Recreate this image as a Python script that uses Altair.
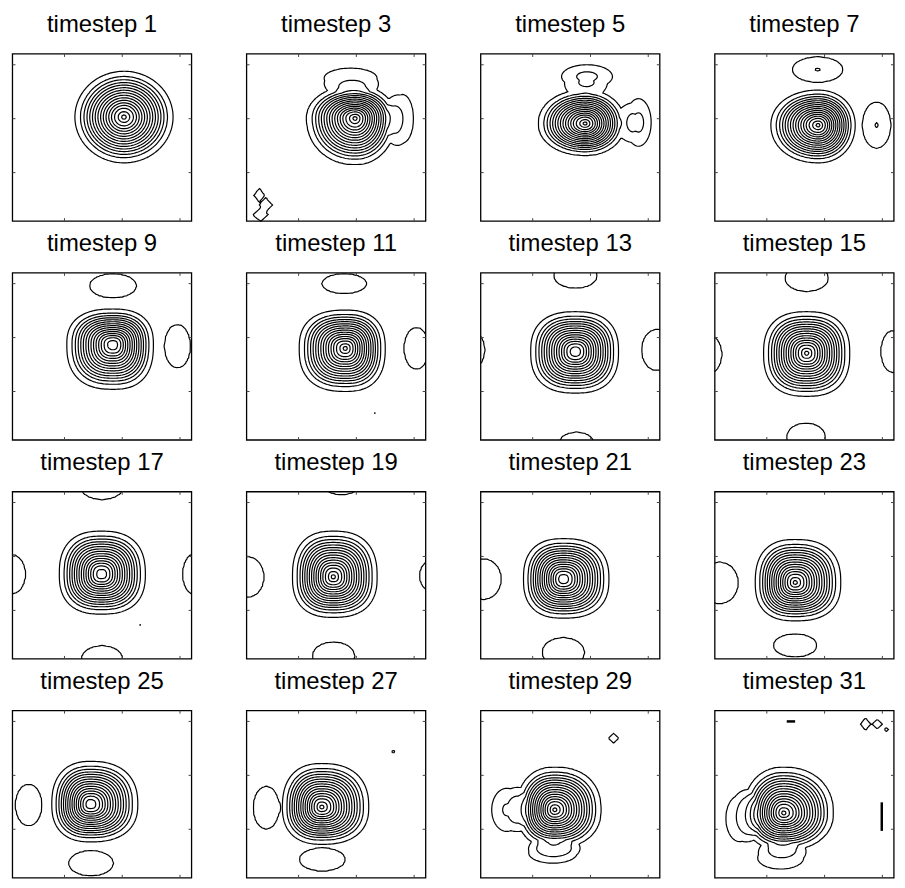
import numpy as np
import pandas as pd
import altair as alt

# ---------------- data ----------------
TIMESTEPS = [1, 3, 5, 7, 9, 11, 13, 15, 17, 19, 21, 23, 25, 27, 29, 31]

# main vortex: centre, half-sizes (left/right/bottom/top, grid units), squareness, ring count
MAIN_X   = [20.3, 19.8, 19.1, 18.9, 18.4, 18.1, 17.4, 16.9, 16.4, 16.0, 15.3, 14.9, 14.5, 14.0, 13.8, 12.9]
MAIN_Y   = [20.3, 20.1, 19.1, 18.8, 18.7, 18.0, 17.4, 17.1, 16.7, 16.2, 15.8, 15.15, 14.6, 14.1, 13.6, 13.0]
A_LEFT   = [8.5, 8.4, 8.1, 8.2, 8.0, 8.0, 7.75, 7.46, 7.3, 7.06, 6.9, 6.9, 6.7, 6.8, 6.5, 6.9]
A_RIGHT  = [8.5, 7.0, 6.8, 6.4, 7.0, 6.9, 7.46, 7.46, 7.6, 7.6, 7.9, 7.9, 8.2, 8.15, 8.0, 8.6]
B_BOTTOM = [8.5, 8.6, 5.9, 7.0, 8.3, 8.0, 7.7, 8.0, 7.4, 7.5, 7.25, 7.1, 6.95, 6.9, 7.0, 6.9]
B_TOP    = [8.5, 6.0, 6.2, 6.5, 6.6, 7.1, 7.4, 7.7, 8.0, 8.5, 7.5, 8.0, 8.0, 8.1, 7.9, 8.5]
SHAPE_P  = [2.0, 2.1, 2.1, 2.1, 2.5, 2.5, 2.5, 2.5, 2.5, 2.5, 2.5, 2.5, 2.4, 2.4, 2.3, 2.2]
N_RINGS  = [16, 16, 16, 16, 15, 16, 15, 16, 15, 16, 15, 16, 15, 16, 16, 16]
MAIN_TAILS = [0.1, 0.3, 0.3, 0.1, 0.1, 0.1, 0.1, 0.1, 0.1, 0.1, 0.1, 0.1, 0.1, 0.1, 0.25, 0.25]

# relative radii of the contour rings (outer -> inner), read from timestep 1
RING_FRACS = [1.0, 0.883, 0.814, 0.752, 0.697, 0.641, 0.586, 0.531, 0.476,
              0.421, 0.366, 0.310, 0.255, 0.193, 0.117, 0.048]

# side lobes / small features: timestep, cx, cy, rx, ry, relative peak, falloff, norm (2 ellipse, 1 diamond)
LOBE_TS = [3, 3, 3, 3, 3,
           5, 5, 7, 7, 9, 9, 11, 11,
           13, 13, 13, 13, 15, 15, 15, 15, 17, 17, 17, 17, 19, 19, 19, 19,
           21, 21, 23, 23, 25, 25, 27, 27, 27,
           29, 29, 29, 31, 31, 31, 31, 31]
LOBE_X = [19.0, 28.0, 3.2, 4.3, 3.4,
          19.4, 28.3, 18.8, 29.0, 18.4, 29.55, 17.9, 30.4,
          17.4, 17.6, 31.5, -1.0, 16.9, 16.8, 31.8, -0.5, 16.5, 16.5, 0.8, 32.5, 17.4, 16.05, 1.2, 33.2,
          1.5, 15.3, 1.8, 14.9, 3.8, 14.6, 4.4, 14.1, 26.4,
          5.5, 13.5, 24.0, 5.3, 12.4, 27.1, 29.1, 30.7]
LOBE_Y = [27.5, 20.0, 5.8, 4.0, 2.2,
          27.8, 19.3, 29.1, 18.8, 29.6, 18.4, 30.0, 18.0,
          31.5, 0.6, 17.7, 17.7, 31.0, 1.5, 17.4, 16.9, 33.0, 1.0, 16.7, 16.7, 33.9, 1.5, 16.2, 16.4,
          15.8, 2.2, 15.1, 3.5, 14.5, 3.7, 14.0, 4.4, 24.4,
          13.6, 5.6, 26.9, 12.0, 4.7, 29.5, 29.5, 28.5]
LOBE_RX = [4.6, 1.9, 1.0, 1.2, 1.4,
           4.4, 2.2, 4.4, 2.5, 4.1, 2.3, 3.9, 2.2,
           3.8, 2.95, 2.7, 2.75, 3.8, 3.4, 2.1, 2.76, 3.75, 3.6, 2.5, 2.1, 3.6, 3.7, 2.85, 2.3,
           3.1, 3.7, 3.3, 3.8, 2.35, 3.9, 2.3, 4.0, 0.45,
           2.6, 4.2, 1.0, 2.4, 4.0, 1.0, 0.9, 0.4]
LOBE_RY = [1.9, 4.5, 1.4, 1.5, 1.3,
           2.2, 4.4, 2.4, 4.3, 2.3, 4.06, 1.9, 3.9,
           2.4, 1.9, 3.85, 3.8, 2.5, 2.7, 3.9, 3.9, 2.5, 2.5, 3.7, 3.8, 2.5, 2.7, 3.8, 3.0,
           3.8, 2.8, 3.9, 2.2, 3.9, 2.4, 4.0, 2.2, 0.35,
           4.0, 1.9, 1.0, 4.3, 2.1, 1.2, 1.0, 0.5]
LOBE_H = [1.6, 1.6, 1.5, 1.5, 1.5,
          2.2, 2.2, 2.01, 2.01, 1.6, 1.6, 1.6, 1.6,
          1.6, 1.6, 1.6, 1.6, 1.6, 1.6, 1.6, 1.6, 1.6, 1.6, 1.6, 1.6, 1.6, 1.6, 1.6, 1.6,
          1.6, 1.6, 1.6, 1.6, 1.6, 1.6, 1.6, 1.6, 1.5,
          2.08, 2.08, 1.5, 1.8, 1.8, 1.5, 1.5, 1.5]
LOBE_TAILS = [0.5, 0.5, 0.15, 0.15, 0.15,
              0.5, 0.5, 0.15, 0.15, 0.15, 0.15, 0.15, 0.15,
              0.15, 0.15, 0.15, 0.15, 0.15, 0.15, 0.15, 0.15, 0.15, 0.15, 0.15, 0.15, 0.15, 0.15, 0.15, 0.15,
              0.15, 0.15, 0.15, 0.15, 0.15, 0.15, 0.15, 0.15, 0.15,
              0.4, 0.4, 0.15, 0.4, 0.4, 0.15, 0.15, 0.15]
LOBE_P = [2, 2, 1, 1, 1,
          2, 2, 2, 2, 2, 2, 2, 2,
          2, 2, 2, 2, 2, 2, 2, 2, 2, 2, 2, 2, 2, 2, 2, 2,
          2, 2, 2, 2, 2, 2, 2, 2, 1,
          2, 2, 1, 2, 2, 1, 1, 1]

# tiny specks and degenerate contour strokes
SPECK_TS = [11, 17]
SPECK_X = [23.2, 23.1]
SPECK_Y = [6.0, 7.3]
SEG_TS = [31, 31]
SEG_X1 = [13.45, 29.9]
SEG_X2 = [14.9, 29.9]
SEG_Y1 = [30.0, 9.7]
SEG_Y2 = [30.0, 15.0]

TICKS = [10, 20, 30]
DOMAIN = [1, 32]

# ---------------- field + contour tracing ----------------
LEVEL_STEP = 1.0 / 17.0
XS = np.linspace(1, 32, 125)
YS = np.linspace(1, 32, 125)
GX, GY = np.meshgrid(XS, YS)


def main_field(i):
    dx = GX - MAIN_X[i]
    dy = GY - MAIN_Y[i]
    ax = np.where(dx < 0, A_LEFT[i], A_RIGHT[i])
    ay = np.where(dy < 0, B_BOTTOM[i], B_TOP[i])
    p = SHAPE_P[i]
    d = ((np.abs(dx) / ax) ** p + (np.abs(dy) / ay) ** p) ** (1.0 / p)
    n = N_RINGS[i]
    fr = RING_FRACS[:n][::-1]
    lv = [LEVEL_STEP * k for k in range(n, 0, -1)]
    xp = [0.0] + fr + [1.0 + MAIN_TAILS[i]]
    fp = [LEVEL_STEP * (n + 0.6)] + lv + [0.0]
    return np.interp(d, xp, fp)


def lobe_field(k):
    p = LOBE_P[k]
    d = ((np.abs(GX - LOBE_X[k]) / LOBE_RX[k]) ** p + (np.abs(GY - LOBE_Y[k]) / LOBE_RY[k]) ** p) ** (1.0 / p)
    h = LOBE_H[k]
    inner = h - (h - 1) * d ** 2
    outer = np.maximum(0.0, 1 - (d - 1) / LOBE_TAILS[k])
    return LEVEL_STEP * np.where(d < 1, inner, outer)


TABLE = {1: ('l', 'b'), 2: ('b', 'r'), 3: ('l', 'r'), 4: ('r', 't'), 6: ('b', 't'),
         7: ('l', 't'), 8: ('l', 't'), 9: ('b', 't'), 11: ('r', 't'), 12: ('l', 'r'),
         13: ('b', 'r'), 14: ('l', 'b')}


def contour_lines(F, lev):
    A = F >= lev
    c = A[:-1, :-1] * 1 + A[:-1, 1:] * 2 + A[1:, 1:] * 4 + A[1:, :-1] * 8
    js, iis = np.nonzero((c > 0) & (c < 15))
    adj = {}

    def link(a, b):
        adj.setdefault(a, []).append(b)
        adj.setdefault(b, []).append(a)

    for j, i in zip(js, iis):
        cc = int(c[j, i])
        E = {'b': (0, j, i), 't': (0, j + 1, i), 'l': (1, j, i), 'r': (1, j, i + 1)}
        if cc in (5, 10):
            center = (F[j, i] + F[j, i + 1] + F[j + 1, i] + F[j + 1, i + 1]) / 4 >= lev
            if cc == 5:
                pairs = [('l', 't'), ('b', 'r')] if center else [('l', 'b'), ('r', 't')]
            else:
                pairs = [('l', 'b'), ('r', 't')] if center else [('b', 'r'), ('l', 't')]
        else:
            pairs = [TABLE[cc]]
        for a, b in pairs:
            link(E[a], E[b])

    def pt(k):
        o, j, i = k
        if o == 0:
            f0, f1 = F[j, i], F[j, i + 1]
            t = (lev - f0) / (f1 - f0)
            return XS[i] + t * (XS[i + 1] - XS[i]), YS[j]
        f0, f1 = F[j, i], F[j + 1, i]
        t = (lev - f0) / (f1 - f0)
        return XS[i], YS[j] + t * (YS[j + 1] - YS[j])

    seen = set()
    paths = []
    starts = [k for k, v in adj.items() if len(v) == 1] + [k for k, v in adj.items() if len(v) != 1]
    for s in starts:
        if s in seen:
            continue
        path = [s]
        seen.add(s)
        prev, cur = None, s
        while True:
            nxt = None
            for nb in adj[cur]:
                if nb != prev and nb not in seen:
                    nxt = nb
                    break
            if nxt is None:
                if len(adj[cur]) == 2 and s in adj[cur] and len(path) > 2:
                    path.append(s)
                break
            path.append(nxt)
            seen.add(nxt)
            prev, cur = cur, nxt
        paths.append([pt(k) for k in path])
    return paths


# panel geometry: title band on top of a 180 x 168 plot box
W, BOX_H, TOP = 180, 168, 45
PH = TOP + BOX_H
xs = alt.Scale(domain=DOMAIN, nice=False, zero=False, range=[0, W])
ys = alt.Scale(domain=DOMAIN, nice=False, zero=False, range=[PH, TOP])


def panel(i, ts):
    F = main_field(i)
    for k in range(len(LOBE_TS)):
        if LOBE_TS[k] == ts:
            F = F + lobe_field(k)
    rows = []
    for lev_k in range(1, 17):
        lev = (lev_k - 0.001) * LEVEL_STEP
        for n, path in enumerate(contour_lines(F, lev)):
            pid = f"{lev_k}_{n}"
            for o, (x, y) in enumerate(path):
                rows.append(('line', pid, o, round(float(x), 3), round(float(y), 3), ''))
    for t in TICKS:
        rows.append(('tick', '', 0, t, t, ''))
    rows.append(('title', '', 0, np.nan, np.nan, f"timestep {ts}"))
    for sts, x, y in zip(SPECK_TS, SPECK_X, SPECK_Y):
        if sts == ts:
            rows.append(('speck', '', 0, x, y, ''))
    df = pd.DataFrame(rows, columns=['kind', 'pid', 'o', 'x', 'y', 'label'])
    df['x2'] = np.nan
    df['y2'] = np.nan
    extra = [{'kind': 'box', 'pid': '', 'o': 0, 'label': '',
              'x': DOMAIN[0], 'y': DOMAIN[0], 'x2': DOMAIN[1], 'y2': DOMAIN[1]}]
    for j, s in enumerate(SEG_TS):
        if s == ts:
            extra.append({'kind': 'seg', 'pid': '', 'o': 0, 'label': '',
                          'x': SEG_X1[j], 'y': SEG_Y1[j], 'x2': SEG_X2[j], 'y2': SEG_Y2[j]})
    df = pd.concat([df, pd.DataFrame(extra)], ignore_index=True)

    base = alt.Chart(df)
    X = alt.X('x:Q', scale=xs, axis=None)
    Y = alt.Y('y:Q', scale=ys, axis=None)
    layers = [
        base.mark_rect(fill=None, stroke='black', strokeWidth=1.3).encode(
            x=X, y=Y, x2='x2:Q', y2='y2:Q').transform_filter(alt.datum.kind == 'box'),
        base.mark_line(color='black', strokeWidth=1.2).encode(
            x=X, y=Y, detail='pid:N', order='o:Q').transform_filter(alt.datum.kind == 'line'),
    ]
    tick_style = dict(color='#444444', strokeWidth=1)
    tf = base.transform_filter(alt.datum.kind == 'tick')
    layers += [
        tf.mark_rule(**tick_style).encode(x=X, y=alt.value(TOP), y2=alt.value(TOP + 3)),
        tf.mark_rule(**tick_style).encode(x=X, y=alt.value(PH), y2=alt.value(PH - 3)),
        tf.mark_rule(**tick_style).encode(y=Y, x=alt.value(0), x2=alt.value(3)),
        tf.mark_rule(**tick_style).encode(y=Y, x=alt.value(W), x2=alt.value(W - 3)),
        base.mark_text(fontSize=24, font='Liberation Sans', color='black',
                       align='center', baseline='alphabetic').encode(
            x=alt.value(W / 2), y=alt.value(TOP - 22), text='label:N'
        ).transform_filter(alt.datum.kind == 'title'),
    ]
    if ts in SPECK_TS:
        layers.append(base.mark_circle(color='black', size=3, opacity=1).encode(
            x=X, y=Y).transform_filter(alt.datum.kind == 'speck'))
    if ts in SEG_TS:
        layers.append(base.mark_rule(color='black', strokeWidth=2.5).encode(
            x=X, y=Y, x2='x2:Q', y2='y2:Q').transform_filter(alt.datum.kind == 'seg'))
    return alt.layer(*layers).properties(width=W, height=PH)


panels = [panel(i, ts) for i, ts in enumerate(TIMESTEPS)]
chart = alt.concat(*panels, columns=4, bounds='flush',
                   spacing={'row': 7, 'column': 55.3}).properties(
    padding={'left': 1.5, 'top': -1, 'right': 0, 'bottom': -0.7},
    background='white',
).configure_view(stroke=None)

chart.save("out.html", embed_options={"renderer": "svg", "actions": False})
